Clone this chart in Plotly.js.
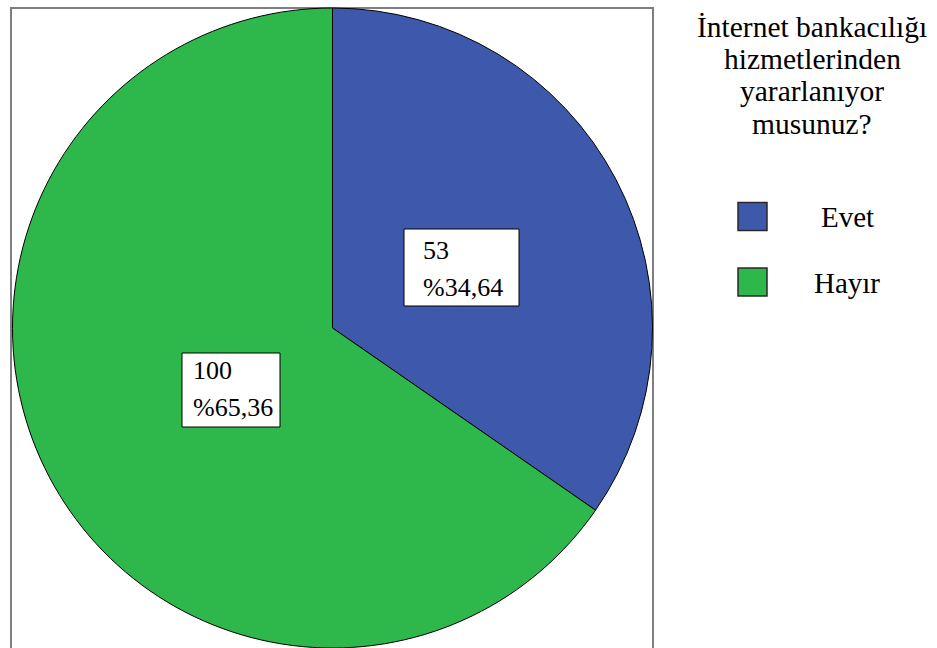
<!DOCTYPE html>
<html>
<head>
<meta charset="utf-8">
<script src="https://cdn.plot.ly/plotly-3.0.1.min.js"></script>
<style>
  html, body { margin: 0; padding: 0; background: #ffffff; }
  #chart { width: 937px; height: 648px; }
</style>
</head>
<body>
<div id="chart"></div>
<script>
// Survey answers and counts
const categories = ['Evet', 'Hayır'];
const counts = [53, 100];
const sliceColors = ['#3e58ab', '#2eb84b'];
const legendTitleLines = ['İnternet bankacılığı', 'hizmetlerinden', 'yararlanıyor', 'musunuz?'];

const W = 937, H = 648;
const px = x => x / W;          // pixel x -> paper x
const py = y => 1 - y / H;      // pixel y (from top) -> paper y

const total = counts.reduce((a, b) => a + b, 0);
const pctText = v => '%' + (v / total * 100).toFixed(2).replace('.', ',');

const textFamily = 'Liberation Serif';

function draw() {
  const pie = {
    type: 'pie',
    labels: categories,
    values: counts,
    sort: false,
    direction: 'clockwise',
    rotation: 0,
    textinfo: 'none',
    textposition: 'none',
    hoverinfo: 'label+value+percent',
    marker: { colors: sliceColors, line: { color: '#000000', width: 1 } },
    domain: { x: [px(12.5), px(652.5)], y: [0, py(8)] },
    showlegend: false
  };

  const shapes = [];
  const annotations = [];

  // Outer frame around the pie area
  shapes.push({
    type: 'rect', xref: 'paper', yref: 'paper',
    x0: px(11), x1: px(653), y0: -0.05, y1: py(8),
    line: { color: '#7f7f7f', width: 2 }, fillcolor: 'rgba(0,0,0,0)', layer: 'below'
  });

  // Value / percentage boxes placed on each slice
  const boxes = [
    { x0: 404, x1: 519, y0: 229, y1: 306, tx: 421, l1: 250.5, l2: 287.5 },
    { x0: 182, x1: 280, y0: 353, y1: 427, tx: 191, l1: 370.5, l2: 407.5 }
  ];
  boxes.forEach((b, i) => {
    shapes.push({
      type: 'rect', xref: 'paper', yref: 'paper',
      x0: px(b.x0), x1: px(b.x1), y0: py(b.y1), y1: py(b.y0),
      line: { color: '#000000', width: 1 }, fillcolor: '#ffffff', layer: 'above'
    });
    [[String(counts[i]), b.l1], [pctText(counts[i]), b.l2]].forEach(([t, y]) => {
      annotations.push({
        xref: 'paper', yref: 'paper', x: px(b.tx), y: py(y),
        xanchor: 'left', yanchor: 'middle', showarrow: false,
        text: t, font: { family: textFamily, size: 26, color: '#000000' }
      });
    });
  });

  // Legend title, one line per annotation for tight spacing
  const titleCenters = [26.5, 59, 91, 123.5];
  legendTitleLines.forEach((t, i) => {
    annotations.push({
      xref: 'paper', yref: 'paper', x: px(812), y: py(titleCenters[i]),
      xanchor: 'center', yanchor: 'middle', showarrow: false,
      text: t, font: { family: textFamily, size: 29.5, color: '#000000' }
    });
  });

  // Legend swatches and labels
  const legendRows = [216.5, 282];
  categories.forEach((c, i) => {
    const cy = legendRows[i];
    shapes.push({
      type: 'rect', xref: 'paper', yref: 'paper',
      x0: px(738), x1: px(767), y0: py(cy + 14), y1: py(cy - 14),
      line: { color: '#2a2a2a', width: 1.5 }, fillcolor: sliceColors[i], layer: 'above'
    });
    annotations.push({
      xref: 'paper', yref: 'paper', x: px(847), y: py(cy + 0.5),
      xanchor: 'center', yanchor: 'middle', showarrow: false,
      text: c, font: { family: textFamily, size: 29, color: '#000000' }
    });
  });

  const layout = {
    width: W, height: H,
    margin: { l: 0, r: 0, t: 0, b: 0 },
    paper_bgcolor: '#ffffff',
    showlegend: false,
    shapes: shapes,
    annotations: annotations
  };

  Plotly.newPlot('chart', [pie], layout, { displayModeBar: false, staticPlot: true });
}

if (document.fonts && document.fonts.load) {
  document.fonts.load("28px 'Liberation Serif'").then(draw, draw);
} else {
  draw();
}
</script>
</body>
</html>
